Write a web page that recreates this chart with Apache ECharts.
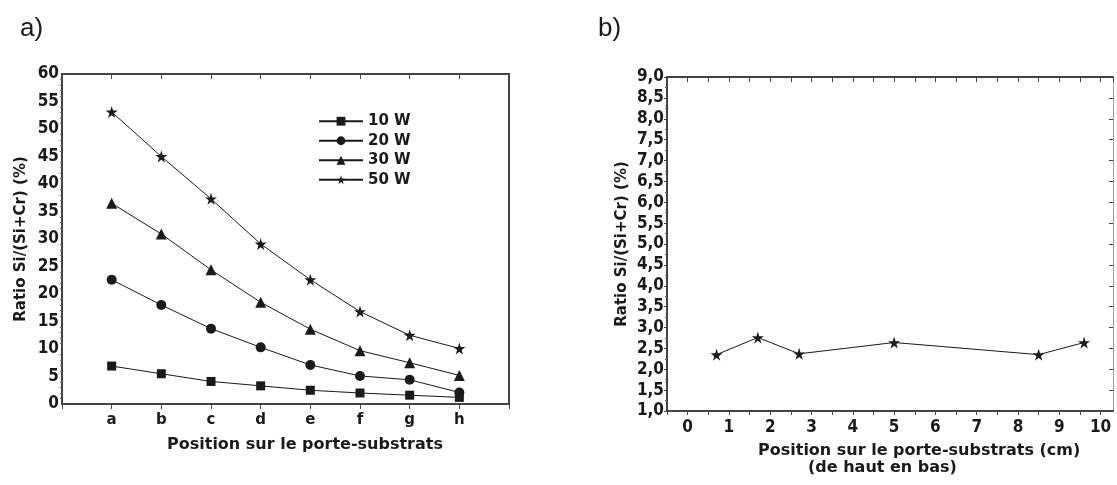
<!DOCTYPE html>
<html>
<head>
<meta charset="utf-8">
<script src="https://cdn.jsdelivr.net/npm/echarts@6/dist/echarts.min.js"></script>
<style>
html,body{margin:0;padding:0;background:#fff;}
#c{width:1117px;height:485px;}
</style>
</head>
<body>
<div id="c"></div>
<script>
// ---- Data ----
var positions = ['a', 'b', 'c', 'd', 'e', 'f', 'g', 'h'];
var seriesNames = ['10 W', '20 W', '30 W', '50 W'];
var w10 = [6.9, 5.5, 4.1, 3.3, 2.5, 2.0, 1.6, 1.2];
var w20 = [22.6, 18.0, 13.7, 10.3, 7.1, 5.1, 4.4, 2.1];
var w30 = [36.5, 30.9, 24.4, 18.5, 13.6, 9.7, 7.5, 5.2];
var w50 = [53.1, 45.0, 37.3, 29.1, 22.6, 16.8, 12.5, 10.1];
var posCm = [0.7, 1.7, 2.7, 5.0, 8.5, 9.6];
var ratioB = [2.35, 2.76, 2.37, 2.64, 2.35, 2.64];

var FONT = "'Liberation Sans Narrow', 'DejaVu Sans Condensed', 'Liberation Sans', sans-serif";
var FONT_W = "'DejaVu Sans', 'Liberation Sans', sans-serif";
var FONT_P = "'Liberation Sans', Arial, sans-serif";
var STAR = 'path://M50,0 L61,35 L98,35 L68,57 L79,91 L50,70 L21,91 L32,57 L2,35 L39,35 Z';
var INK = '#1a1a1a';

var catAxisData = [''].concat(positions).concat(['']);
function catSeries(vals) { return vals.map(function (v, i) { return [positions[i], v]; }); }

var axisLineStyle = { show: true, onZero: false, lineStyle: { color: '#444', width: 2 } };
var labelStyle = { color: INK, fontFamily: FONT, fontWeight: 'bold', fontSize: 17 };

var chart = echarts.init(document.getElementById('c'));
var symbols = ['rect', 'circle', 'triangle', STAR];
var sizes = [9, 10, 11, 12];
var dataA = [w10, w20, w30, w50];

var series = dataA.map(function (vals, k) {
  return {
    name: seriesNames[k], type: 'line', xAxisIndex: 0, yAxisIndex: 0,
    data: catSeries(vals), symbol: symbols[k], symbolSize: sizes[k],
    lineStyle: { color: INK, width: 1 }, itemStyle: { color: INK },
    emphasis: { disabled: true }, animation: false
  };
});
series.push({
  name: 'b', type: 'line', xAxisIndex: 2, yAxisIndex: 2,
  data: posCm.map(function (x, i) { return [x, ratioB[i]]; }),
  symbol: STAR, symbolSize: 12,
  lineStyle: { color: INK, width: 1 }, itemStyle: { color: INK },
  emphasis: { disabled: true }, animation: false
});

chart.setOption({
  backgroundColor: '#fff',
  animation: false,
  grid: [
    { left: 62, top: 74, width: 447, height: 330 },
    { left: 667, top: 77, width: 446, height: 334 }
  ],
  legend: {
    data: seriesNames, orient: 'vertical', left: 313, top: 108,
    itemWidth: 44, itemHeight: 11, itemGap: 3,
    textStyle: { color: INK, fontFamily: FONT_W, fontWeight: 'bold', fontSize: 15, lineHeight: 16.5 }
  },
  xAxis: [
    { type: 'category', gridIndex: 0, position: 'bottom', data: catAxisData, boundaryGap: false,
      axisLine: axisLineStyle, axisTick: { inside: false, length: 5, lineStyle: { color: '#444' } },
      axisLabel: { margin: 9, fontFamily: FONT_W, fontSize: 15, color: INK, fontWeight: 'bold' },
      splitLine: { show: false } },
    { type: 'category', gridIndex: 0, position: 'top', data: catAxisData, boundaryGap: false,
      axisLine: axisLineStyle, axisTick: { inside: true, length: 5, lineStyle: { color: '#444' } },
      axisLabel: { show: false }, splitLine: { show: false } },
    { type: 'value', gridIndex: 1, position: 'bottom', min: -0.5, max: 10.3, interval: 0.5,
      axisLine: axisLineStyle, axisTick: { inside: false, length: 4, lineStyle: { color: '#444' } },
      axisLabel: { color: INK, fontFamily: FONT, fontWeight: 'bold', fontSize: 17, margin: 8,
        showMaxLabel: false,
        formatter: function (v) { return (v >= 0 && Math.abs(v - Math.round(v)) < 1e-6) ? String(Math.round(v)) : ''; } },
      splitLine: { show: false } },
    { type: 'value', gridIndex: 1, position: 'top', min: -0.5, max: 10.3, interval: 0.5,
      axisLine: axisLineStyle, axisTick: { inside: true, length: 5, lineStyle: { color: '#444' } },
      axisLabel: { show: false }, splitLine: { show: false } }
  ],
  yAxis: [
    { type: 'value', gridIndex: 0, position: 'left', min: 0, max: 60, interval: 5,
      axisLine: axisLineStyle, axisTick: { inside: false, length: 4, lineStyle: { color: '#444' } },
      minorTick: { show: true, splitNumber: 5, length: 2, lineStyle: { color: '#666' } },
      axisLabel: Object.assign({ margin: 3 }, labelStyle),
      splitLine: { show: false },
      name: 'Ratio Si/(Si+Cr) (%)', nameLocation: 'middle', nameGap: 33,
      nameTextStyle: { color: INK, fontFamily: FONT_W, fontWeight: 'bold', fontSize: 15 } },
    { type: 'value', gridIndex: 0, position: 'right', min: 0, max: 60, interval: 5,
      axisLine: axisLineStyle, axisTick: { inside: true, length: 4, lineStyle: { color: '#444' } },
      axisLabel: { show: false }, splitLine: { show: false } },
    { type: 'value', gridIndex: 1, position: 'left', min: 1, max: 9, interval: 0.5,
      axisLine: axisLineStyle, axisTick: { inside: false, length: 3, lineStyle: { color: '#444' } },
      minorTick: { show: true, splitNumber: 2, length: 2, lineStyle: { color: '#666' } },
      axisLabel: Object.assign({ margin: 3, formatter: function (v) { return v.toFixed(1).replace('.', ','); } }, labelStyle),
      splitLine: { show: false },
      name: 'Ratio Si/(Si+Cr) (%)', nameLocation: 'middle', nameGap: 37,
      nameTextStyle: { color: INK, fontFamily: FONT_W, fontWeight: 'bold', fontSize: 15 } },
    { type: 'value', gridIndex: 1, position: 'right', min: 1, max: 9, interval: 0.5,
      axisLine: { show: true, onZero: false, lineStyle: { color: '#888', width: 1, type: 'dotted' } },
      axisTick: { inside: true, length: 4, lineStyle: { color: '#444' } },
      axisLabel: { show: false }, splitLine: { show: false } }
  ],
  graphic: [
    { type: 'text', left: 20, top: 16, style: { text: 'a)', fill: INK, font: '26px ' + FONT_P } },
    { type: 'text', left: 598, top: 16, style: { text: 'b)', fill: INK, font: '26px ' + FONT_P } },
    { type: 'text', left: 167, top: 437, style: { text: 'Position sur le porte-substrats', fill: INK, font: 'bold 16px ' + FONT_W } },
    { type: 'text', left: 758, top: 443, style: { text: 'Position sur le porte-substrats (cm)', fill: INK, font: 'bold 16px ' + FONT_W } },
    { type: 'text', left: 808, top: 460, style: { text: '(de haut en bas)', fill: INK, font: 'bold 16px ' + FONT_W } }
  ],
  series: series
});
</script>
</body>
</html>
